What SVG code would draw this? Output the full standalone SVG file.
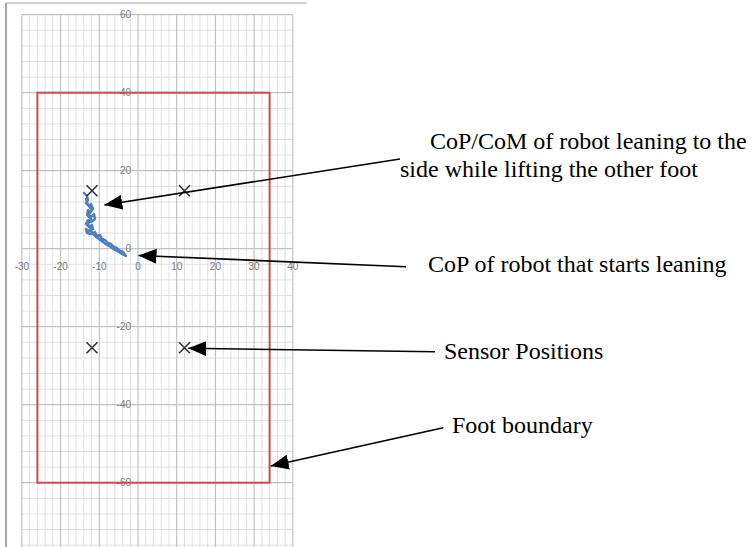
<svg xmlns="http://www.w3.org/2000/svg" width="752" height="547" viewBox="0 0 752 547">
  <style>
    .frame { stroke: #a6a6a6; fill: none; }
    .minor { stroke: #e1e1e1; stroke-width: 1; fill: none; }
    .major { stroke: #c2c2c2; stroke-width: 1.2; fill: none; }
    .tick { font-family: "Liberation Sans", Arial, sans-serif; font-size: 10px; fill: #7a7a7a; }
    .foot { stroke: #cc4b4b; stroke-width: 2; fill: none; }
    .trace { stroke: #4a7fc1; stroke-width: 2.4; fill: none; stroke-linejoin: round; stroke-linecap: round; }
    .sensor { stroke: #333333; stroke-width: 1.6; fill: none; }
    .label { font-family: "Liberation Serif", "Times New Roman", serif; font-size: 24px; fill: #000000; }
    .conn { stroke: #000000; stroke-width: 1.6; fill: none; marker-end: url(#head); }
  </style>
  <defs>
    <marker id="head" markerUnits="userSpaceOnUse" markerWidth="18" markerHeight="15" refX="18" refY="7.5" orient="auto">
      <path d="M0,0 L18,7.5 L0,15 z" fill="#000000"/>
    </marker>
  </defs>

  <rect width="752" height="547" fill="#ffffff"/>

  <!-- chart frame -->
  <g id="frame">
    <path class="frame" d="M6,3 V547" stroke-width="2"/>
    <path class="frame" d="M6,3 H307" stroke-width="1.2"/>
  </g>

  <!-- plot area grid: x from -30 to 40, y from 60 to -76 -->
  <g id="grid">
    <path class="minor" d="M29.6,14.7V547 M37.4,14.7V547 M45.1,14.7V547 M52.8,14.7V547 M68.3,14.7V547 M76.1,14.7V547 M83.8,14.7V547 M91.5,14.7V547 M107,14.7V547 M114.8,14.7V547 M122.5,14.7V547 M130.3,14.7V547 M145.7,14.7V547 M153.5,14.7V547 M161.2,14.7V547 M169,14.7V547 M184.5,14.7V547 M192.2,14.7V547 M199.9,14.7V547 M207.7,14.7V547 M223.2,14.7V547 M230.9,14.7V547 M238.6,14.7V547 M246.4,14.7V547 M261.9,14.7V547 M269.6,14.7V547 M277.4,14.7V547 M285.1,14.7V547"/>
    <path class="minor" d="M21.9,30.3H292.8 M21.9,45.9H292.8 M21.9,61.5H292.8 M21.9,77.1H292.8 M21.9,108.3H292.8 M21.9,123.9H292.8 M21.9,139.5H292.8 M21.9,155.1H292.8 M21.9,186.3H292.8 M21.9,201.9H292.8 M21.9,217.5H292.8 M21.9,233.1H292.8 M21.9,264.3H292.8 M21.9,279.9H292.8 M21.9,295.5H292.8 M21.9,311.1H292.8 M21.9,342.3H292.8 M21.9,357.9H292.8 M21.9,373.5H292.8 M21.9,389.1H292.8 M21.9,420.3H292.8 M21.9,435.9H292.8 M21.9,451.5H292.8 M21.9,467.1H292.8 M21.9,498.3H292.8 M21.9,513.9H292.8 M21.9,529.5H292.8 M21.9,545.1H292.8"/>
    <path class="major" d="M21.9,14.7V547 M60.6,14.7V547 M99.3,14.7V547 M138,14.7V547 M176.7,14.7V547 M215.4,14.7V547 M254.1,14.7V547 M292.8,14.7V547"/>
    <path class="major" d="M21.9,14.7H292.8 M21.9,92.7H292.8 M21.9,170.7H292.8 M21.9,248.7H292.8 M21.9,326.7H292.8 M21.9,404.7H292.8 M21.9,482.7H292.8"/>
  </g>

  <!-- axis tick labels -->
  <g id="axis-labels" class="tick">
    <g text-anchor="end" dominant-baseline="central">
      <text x="131" y="14.7">60</text>
      <text x="131" y="92.7">40</text>
      <text x="131" y="170.7">20</text>
      <text x="131" y="248.7">0</text>
      <text x="131" y="326.7">-20</text>
      <text x="131" y="404.7">-40</text>
      <text x="131" y="482.7">-60</text>
    </g>
    <g text-anchor="middle" dominant-baseline="central">
      <text x="21.9" y="266.7">-30</text>
      <text x="60.6" y="266.7">-20</text>
      <text x="99.3" y="266.7">-10</text>
      <text x="138" y="266.7">0</text>
      <text x="176.7" y="266.7">10</text>
      <text x="215.4" y="266.7">20</text>
      <text x="254.1" y="266.7">30</text>
      <text x="292.8" y="266.7">40</text>
    </g>
  </g>

  <!-- foot outline -->
  <g id="foot-boundary">
    <rect class="foot" x="37.4" y="92.7" width="232.2" height="390"/>
  </g>

  <!-- measured CoP path -->
  <g id="cop-trace">
    <polyline class="trace" points="84,193 87,196 88,200 86,203 89,206 91,204 93,209 90,212 88,210 87,215 90,218 94,214 95,219 91,222 88,220 86,224 89,227 92,225 93,229 89,231 86,229 87,233 91,234 95,232 97,236 100,235 102,239 105,240 108,243 111,244 114,247 117,248 120,251 123,252 126,256 122,254 119,252 115,250 111,247 107,245 103,242 99,239 95,236 92,233 90,228 88,224 91,219 89,214 92,210 88,205 86,199"/>
  </g>

  <!-- pressure sensor locations -->
  <g id="sensors" class="sensor">
    <path d="M86.5,185.2 L97.5,196.2 M97.5,185.2 L86.5,196.2"/>
    <path d="M179,185.2 L190,196.2 M190,185.2 L179,196.2"/>
    <path d="M86.5,342.2 L97.5,353.2 M97.5,342.2 L86.5,353.2"/>
    <path d="M179,342.2 L190,353.2 M190,342.2 L179,353.2"/>
  </g>

  <!-- annotations -->
  <g id="label-lean" class="label">
    <text x="430" y="149">CoP/CoM of robot leaning to the</text>
    <text x="400" y="177">side while lifting the other foot</text>
  </g>
  <g id="label-start" class="label">
    <text x="428" y="272">CoP of robot that starts leaning</text>
  </g>
  <g id="label-sensors" class="label">
    <text x="444" y="359">Sensor Positions</text>
  </g>
  <g id="label-foot" class="label">
    <text x="452" y="433">Foot boundary</text>
  </g>

  <!-- leader arrows -->
  <g id="connectors">
    <path class="conn" d="M400,159 L104.3,205"/>
    <path class="conn" d="M406,266.7 L138.5,255.5"/>
    <path class="conn" d="M435,351.7 L188.3,348.3"/>
    <path class="conn" d="M443.3,427.7 L270.7,466"/>
  </g>
</svg>
